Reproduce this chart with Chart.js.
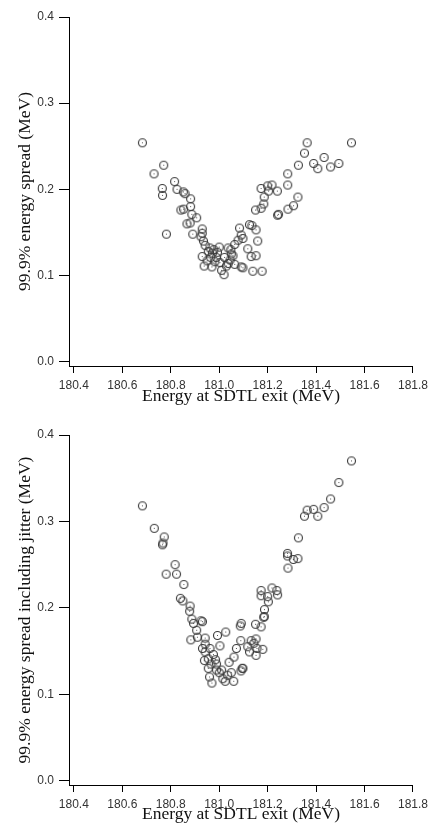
<!DOCTYPE html>
<html>
<head>
<meta charset="utf-8">
<script src="https://cdn.jsdelivr.net/npm/chart.js@4/dist/chart.umd.min.js"></script>
<style>
  html, body { margin: 0; padding: 0; background: #fff; }
  #wrap { position: relative; width: 433px; height: 826px; }
  .box { position: absolute; left: 0; width: 433px; }
</style>
</head>
<body>
<div id="wrap">
  <div class="box" style="top:0;height:413px"><canvas id="c1"></canvas></div>
  <div class="box" style="top:413px;height:413px"><canvas id="c2"></canvas></div>
</div>
<script>
// ---- data ----
const xTickValues = [180.4, 180.6, 180.8, 181.0, 181.2, 181.4, 181.6, 181.8];
const yTickValues = [0.0, 0.1, 0.2, 0.3, 0.4];
const xTitle = 'Energy at SDTL exit (MeV)';
const yTitleTop = '99.9% energy spread (MeV)';
const yTitleBottom = '99.9% energy spread including jitter (MeV)';

const energyTop = [
  180.683, 180.771, 180.731, 180.816, 180.765, 180.766, 180.826, 180.852, 180.859, 180.882,
  180.842, 180.853, 180.882, 180.887, 180.907, 180.867, 180.880, 180.782, 180.891, 180.930,
  180.930, 180.925,
  180.935, 180.942, 180.930, 180.938, 180.950, 180.955, 180.962, 180.965, 180.972, 180.978,
  180.982, 180.970, 180.988, 180.993, 181.000, 181.003, 181.010, 181.020, 181.022, 181.030,
  181.045, 181.048, 181.057,
  181.084, 181.091, 181.078, 181.098, 181.064, 181.037, 181.050, 181.125, 181.135, 181.152,
  181.159, 181.118, 181.132, 181.152, 181.091, 181.098, 181.037, 181.064, 181.139, 181.177,
  181.363, 181.546, 181.352, 181.433, 181.390, 181.407, 181.460, 181.494, 181.327, 181.283,
  181.283, 181.325, 181.307, 181.284, 181.241, 181.245, 181.173, 181.200, 181.218, 181.204,
  181.240, 181.186, 181.184, 181.173, 181.150
];
const spreadTop = [
  0.254, 0.228, 0.218, 0.209, 0.201, 0.193, 0.200, 0.197, 0.195, 0.189,
  0.176, 0.177, 0.180, 0.171, 0.167, 0.160, 0.161, 0.148, 0.148, 0.154,
  0.149, 0.145,
  0.140, 0.135, 0.122, 0.111, 0.117, 0.128, 0.132, 0.121, 0.126, 0.130,
  0.116, 0.110, 0.121, 0.127, 0.133, 0.115, 0.106, 0.101, 0.121, 0.111,
  0.118, 0.130, 0.123,
  0.155, 0.147, 0.141, 0.143, 0.136, 0.132, 0.125, 0.159, 0.158, 0.153,
  0.140, 0.131, 0.122, 0.123, 0.110, 0.109, 0.114, 0.113, 0.105, 0.105,
  0.254, 0.254, 0.242, 0.237, 0.230, 0.224, 0.226, 0.230, 0.228, 0.218,
  0.205, 0.191, 0.181, 0.177, 0.170, 0.171, 0.201, 0.204, 0.205, 0.198,
  0.198, 0.191, 0.183, 0.178, 0.176
];

const energyBottom = [
  180.683, 180.732, 180.773, 180.766, 180.768, 180.818, 180.781, 180.824, 180.854, 180.840,
  180.850, 180.880, 180.878, 180.887, 180.894, 180.931, 180.925, 180.907, 180.883, 180.910,
  180.942, 180.942, 180.931, 180.962, 180.993, 181.027, 181.003, 180.942, 180.976, 180.955,
  180.985, 180.939, 180.966, 180.989, 180.955, 180.989, 181.041, 181.061, 181.089, 181.091,
  181.087, 181.150, 181.173, 181.184, 181.186, 181.187, 181.132, 181.152, 181.143, 181.118,
  181.156, 181.180, 181.125, 181.152, 181.071, 181.098,
  180.970, 181.000, 181.015, 181.025, 181.035, 181.050, 181.060, 181.090, 181.095, 180.960,
  181.010,
  181.173, 181.173, 181.218, 181.200, 181.203, 181.238, 181.241, 181.282, 181.282, 181.306,
  181.325, 181.284, 181.327, 181.546, 181.494, 181.460, 181.433, 181.390, 181.363, 181.352,
  181.407
];
const spreadBottom = [
  0.318, 0.292, 0.282, 0.273, 0.275, 0.250, 0.239, 0.239, 0.227, 0.211,
  0.208, 0.202, 0.196, 0.187, 0.182, 0.184, 0.185, 0.174, 0.163, 0.166,
  0.165, 0.158, 0.153, 0.153, 0.168, 0.172, 0.156, 0.149, 0.146, 0.141,
  0.140, 0.139, 0.135, 0.135, 0.130, 0.128, 0.137, 0.143, 0.162, 0.182,
  0.179, 0.181, 0.178, 0.189, 0.190, 0.198, 0.162, 0.164, 0.159, 0.155,
  0.153, 0.152, 0.149, 0.145, 0.153, 0.130,
  0.113, 0.125, 0.118, 0.115, 0.122, 0.125, 0.115, 0.127, 0.130, 0.120,
  0.128,
  0.220, 0.214, 0.223, 0.213, 0.207, 0.220, 0.215, 0.263, 0.260, 0.256,
  0.257, 0.246, 0.281, 0.370, 0.345, 0.326, 0.316, 0.314, 0.313, 0.306,
  0.306
];

// ---- marker: open circle with a small centre dot ----
function makeMarker() {
  const c = document.createElement('canvas');
  c.width = 11; c.height = 11;
  const g = c.getContext('2d');
  g.strokeStyle = '#3a3a3a';
  g.lineWidth = 1.15;
  g.beginPath();
  g.arc(5.5, 5.5, 4, 0, Math.PI * 2);
  g.stroke();
  g.fillStyle = '#555';
  g.fillRect(5, 5, 1, 1);
  return c;
}
const marker = makeMarker();

function toPoints(xs, ys) { return xs.map((x, i) => ({ x: x, y: ys[i] })); }

function makeChart(id, xs, ys, yTitle, opt) {
  return new Chart(document.getElementById(id), {
    type: 'scatter',
    data: { datasets: [{ data: toPoints(xs, ys), pointStyle: marker, pointRadius: 4.5, pointHoverRadius: 4.5 }] },
    options: {
      responsive: true,
      maintainAspectRatio: false,
      animation: false,
      events: [],
      layout: { padding: { top: opt.padTop, right: 16, bottom: 0, left: 0 } },
      plugins: { legend: { display: false }, tooltip: { enabled: false } },
      scales: {
        x: {
          type: 'linear', min: 180.38, max: 181.8,
          afterBuildTicks: s => { s.ticks = xTickValues.map(v => ({ value: v })); },
          afterFit: s => { s.height = opt.xAxisH; },
          border: { display: true, color: '#000', width: 1 },
          grid: { drawOnChartArea: false, drawTicks: true, tickLength: 7, color: '#000', lineWidth: 1 },
          ticks: {
            padding: opt.tickPad, color: '#333', maxRotation: 0, autoSkip: false,
            font: { family: '"Liberation Sans", Arial, sans-serif', size: 12 },
            callback: v => Number(v).toFixed(1)
          },
          title: {
            display: true, text: xTitle, color: '#111',
            font: { family: '"Liberation Serif", "Times New Roman", serif', size: 17.5, lineHeight: 1.1 },
            padding: { top: 0, bottom: opt.titlePadB }
          }
        },
        y: {
          type: 'linear', min: -0.005, max: 0.4,
          afterBuildTicks: s => { s.ticks = yTickValues.map(v => ({ value: v })); },
          afterFit: s => { s.width = 69; },
          border: { display: true, color: '#000', width: 1 },
          grid: { drawOnChartArea: false, drawTicks: true, tickLength: 10, color: '#000', lineWidth: 1 },
          ticks: {
            padding: 5, color: '#333', autoSkip: false,
            font: { family: '"Liberation Sans", Arial, sans-serif', size: 12 },
            callback: v => Number(v).toFixed(1)
          },
          title: {
            display: true, text: yTitle, color: '#111',
            font: { family: '"Liberation Serif", "Times New Roman", serif', size: 17.5, lineHeight: 1.1 },
            padding: { top: 16, bottom: 0 }
          }
        }
      }
    }
  });
}

makeChart('c1', energyTop, spreadTop, yTitleTop, { padTop: 17, xAxisH: 47, tickPad: 5, titlePadB: 7 });
makeChart('c2', energyBottom, spreadBottom, yTitleBottom, { padTop: 22, xAxisH: 41, tickPad: 5, titlePadB: 2 });
</script>
</body>
</html>
